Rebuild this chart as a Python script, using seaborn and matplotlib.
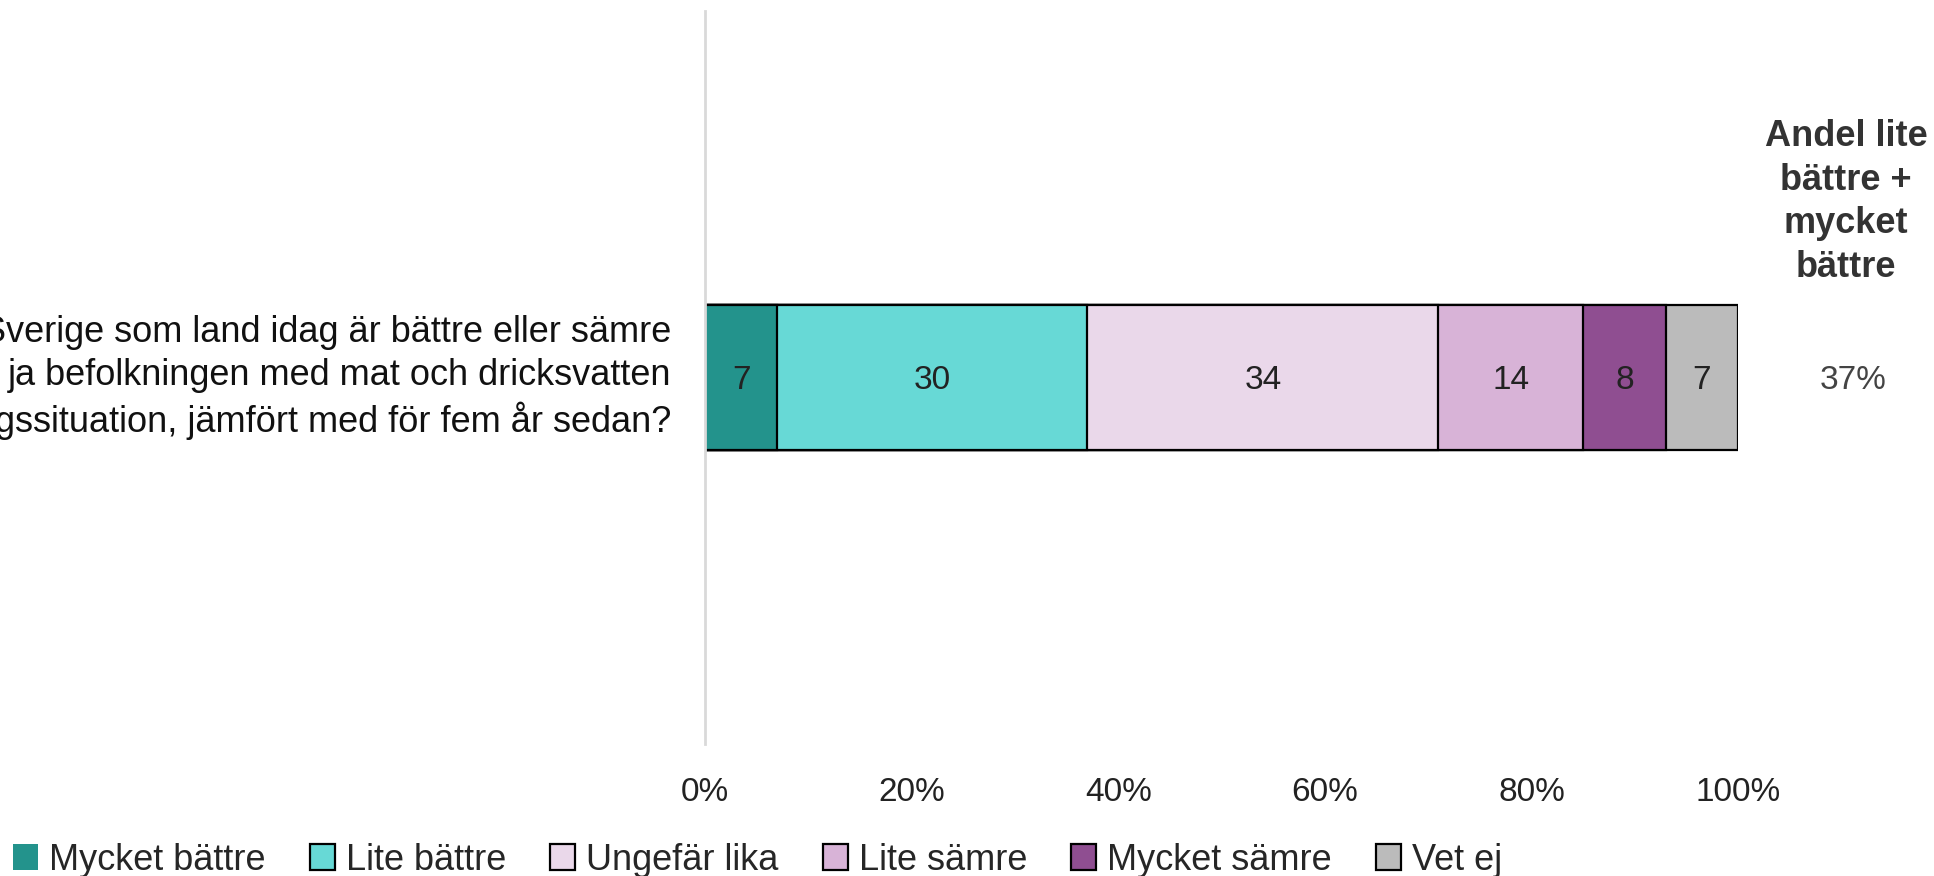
import numpy as np
import pandas as pd
import matplotlib
matplotlib.use('Agg')
import matplotlib.pyplot as plt
import seaborn as sns
from matplotlib.patches import Patch

# data
categories = ['Mycket bättre', 'Lite bättre', 'Ungefär lika', 'Lite sämre', 'Mycket sämre', 'Vet ej']
values = [7, 30, 34, 14, 8, 7]
colors = ['#23938C', '#67D9D6', '#EAD8EA', '#D8B3D7', '#8F4E91', '#BBBBBB']
question = ('Sverige som land idag är bättre eller sämre\n'
            'ja befolkningen med mat och dricksvatten\n'
            'gssituation, jämfört med för fem år sedan?')
x_ticks = [0, 20, 40, 60, 80, 100]
share_title = 'Andel lite\nbättre +\nmycket\nbättre'

sns.set_theme(style='white')
plt.rcParams['font.family'] = ['Liberation Sans', 'DejaVu Sans']

fig = plt.figure(figsize=(19.34, 8.76), dpi=100)
ax = fig.add_axes([0.3645, 0.1507, 0.5342, 0.8367])

# stacked bar: draw cumulative totals from the longest down
df = pd.DataFrame({'cat': categories, 'val': values, 'color': colors})
df['cum'] = df['val'].cumsum()
df['q'] = question
for i in range(len(df) - 1, -1, -1):
    sns.barplot(data=df.iloc[[i]], x='cum', y='q', color=df['color'][i],
                width=0.5, edgecolor='black', linewidth=1.6, ax=ax,
                orient='h', saturation=1)

# segment labels
starts = df['cum'] - df['val']
for s, v in zip(starts, df['val']):
    ax.text(s + v / 2, 0.01, str(v), ha='center', va='center', fontsize=24, color='#222222')

ax.set_xlim(0, 100)
ax.set_ylim(1.2625, -1.2625)
ax.set_xticks(x_ticks)
ax.set_xticklabels([f'{t}%' for t in x_ticks], fontsize=24, color='#222222')
ax.tick_params(axis='x', length=0, pad=24)
ax.tick_params(axis='y', length=0, pad=24)
for lab in ax.get_yticklabels():
    lab.set_fontsize(26)
    lab.set_linespacing(1.28)
    lab.set_color('#111111')
    lab.set_va('center')
    lab.set_y(-0.02)
ax.set_xlabel('')
ax.set_ylabel('')
for side in ['top', 'right', 'bottom']:
    ax.spines[side].set_visible(False)
ax.spines['left'].set_color('#D9D9D9')
ax.spines['left'].set_linewidth(2)

# share column
share = sum(values[:2])
fig.text(1846 / 1934, 1 - 202 / 876, share_title, ha='center', va='center',
         fontsize=26, fontweight='bold', color='#333333', linespacing=1.33)
ax.text(111.1, 0.01, f'{share}%', ha='center', va='center', fontsize=24, color='#444444',
        clip_on=False)

handles = []
for i, (c, col) in enumerate(zip(categories, colors)):
    handles.append(Patch(facecolor=col, edgecolor='none' if i == 0 else 'black',
                         linewidth=1.6, label=c))
fig.legend(handles=handles, loc='center left', bbox_to_anchor=(0.003, 1 - 860 / 876),
           ncol=6, frameon=False, fontsize=26, handlelength=0.7, handleheight=0.7,
           handletextpad=0.3, columnspacing=1.22, borderaxespad=0, borderpad=0.2)

fig.savefig('out.png', dpi=100)
